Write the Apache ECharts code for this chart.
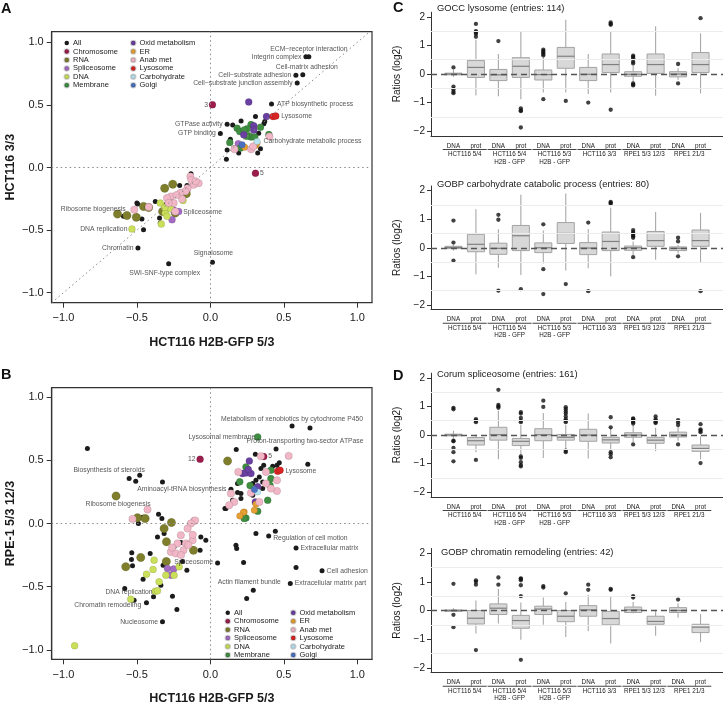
<!DOCTYPE html>
<html><head><meta charset="utf-8">
<script src="https://cdn.jsdelivr.net/npm/echarts@6/dist/echarts.min.js"></script>
<style>html,body{margin:0;padding:0;background:#fff}#c{width:723px;height:705px}</style>
</head><body><div id="c"></div>
<script>
const FONT = '"Liberation Sans", Arial, Helvetica, sans-serif';

// ---------------- categories ----------------
const categories = ['All','Chromosome','RNA','Spliceosome','DNA','Membrane','Oxid metabolism','ER','Anab met','Lysosome','Carbohydrate','Golgi'];
const legendCol1 = ['All','Chromosome','RNA','Spliceosome','DNA','Membrane'];
const legendCol2 = ['Oxid metabolism','ER','Anab met','Lysosome','Carbohydrate','Golgi'];

// ---------------- panel A: x = HCT116 H2B-GFP 5/3, y = HCT116 3/3 ----------------
const A_All = [[0.65,0.885],[0.67,0.885],[0.629,0.742],[0.582,0.737],[0.591,0.675],[0.416,0.508],[0.114,0.346],[0.068,0.271],[0.152,0.34],[0.209,0.372],[0.307,0.407],[0.37,0.367],[0.364,0.349],[0.136,0.226],[0.114,0.139],[0.109,0.067],[0.193,0.115],[0.322,0.115],[0.341,0.149],[0.329,0.274],[0.159,0.155],[-0.132,-0.05],[-0.209,-0.143],[-0.205,-0.196],[-0.155,-0.19],[-0.375,-0.271],[-0.495,-0.292],[-0.5,-0.284],[-0.591,-0.39],[-0.466,-0.412],[-0.455,-0.497],[-0.346,-0.404],[-0.341,-0.443],[-0.159,-0.143],[-0.493,-0.643],[-0.284,-0.768],[0.014,-0.757]];
const A_Chromosome = [[0.014,0.502],[0.307,-0.045]];
const A_RNA = [[-0.311,-0.165],[-0.256,-0.133],[-0.164,-0.21],[-0.632,-0.372],[-0.568,-0.383],[-0.504,-0.398],[-0.455,-0.311],[-0.325,-0.351],[-0.239,-0.364],[-0.42,-0.32],[-0.29,-0.3]];
const A_Spliceosome = [[-0.216,-0.351],[-0.261,-0.417],[-0.25,-0.34],[0.19,0.19]];
const A_DNA = [[-0.341,-0.284],[-0.186,-0.263],[-0.307,-0.364],[-0.295,-0.39],[-0.334,-0.452],[-0.534,-0.491],[-0.27,-0.33],[-0.31,-0.32]];
const A_Membrane = [[0.182,0.314],[0.2,0.287],[0.277,0.343],[0.341,0.322],[0.398,0.263],[0.277,0.243],[0.261,0.253],[0.302,0.243],[0.132,0.2],[0.205,0.155],[0.245,0.25],[0.25,0.31],[0.23,0.3]];
const A_Oxid = [[0.261,0.524],[0.382,0.407],[0.295,0.333],[0.295,0.3],[0.227,0.261]];
const A_ER = [[0.234,0.162],[0.307,0.175],[0.318,0.196]];
const A_Anab = [[0.402,0.247],[0.164,0.146],[0.277,0.146],[0.291,0.168],[-0.136,-0.072],[-0.08,-0.125],[-0.114,-0.138],[-0.155,-0.165],[-0.17,-0.19],[-0.205,-0.204],[-0.268,-0.231],[-0.295,-0.244],[-0.193,-0.252],[-0.25,-0.284],[-0.284,-0.284],[-0.42,-0.316],[-0.518,-0.337],[-0.239,-0.351],[-0.13,-0.1],[-0.23,-0.22],[-0.1,-0.11]];
const A_Lysosome = [[0.427,0.407],[0.445,0.412]];
const A_Carbohydrate = [[0.318,0.207]];
const A_Golgi = [[0.216,0.181]];
const A_notes = [
  ['ECM\u2212receptor interaction',0.67,0.885],['Integrin complex',0.65,0.885],['Cell-matrix adhesion',0.629,0.742],
  ['Cell\u2212substrate adhesion',0.582,0.737],['Cell\u2212substrate junction assembly',0.591,0.675],
  ['ATP biosynthetic process',0.416,0.508],['Lysosome',0.445,0.412],['3',0.014,0.502],['GTPase activity',0.114,0.346],
  ['GTP binding',0.068,0.271],['Carbohydrate metabolic process',0.318,0.207],['5',0.307,-0.045],
  ['Ribosome biogenesis',-0.518,-0.337],['Spliceosome',-0.216,-0.351],['DNA replication',-0.534,-0.491],
  ['Chromatin',-0.493,-0.643],['Signalosome',0.014,-0.757],['SWI-SNF-type complex',-0.284,-0.768]
];
const A_notePlace = [['top',0,0],['left',0,0],['top',4,0],['left',0,0],['left',0,0],['right',1,0],['right',1,0],['left',0,0],['left',0,0],['left',0,0],['right',2,0],['right',0,0],['left',-4,-1],['right',0,1],['left',0,0],['left',0,0],['top',1,-1],['bottom',-4,1]];

// ---------------- panel B: x = HCT116 H2B-GFP 5/3, y = RPE-1 5/3 12/3 ----------------
const B_All = [[0.556,0.772],[0.678,0.756],[0.447,0.589],[0.663,0.469],[-0.553,0.356],[-0.508,0.335],[-0.481,0.382],[-0.837,0.593],[-0.326,0.329],[0.14,0.271],[0.176,0.585],[0.306,0.548],[0.185,0.316],[0.099,0.119],[0.469,0.48],[0.453,0.461],[0.424,0.453],[0.363,0.461],[0.344,0.435],[0.333,0.369],[0.356,0.329],[0.31,0.342],[0.288,0.316],[0.322,0.295],[0.356,0.277],[0.288,0.224],[0.185,0.245],[0.208,0.198],[0.151,0.184],[0.106,0.119],[0.208,0.237],[0.442,-0.061],[0.31,-0.079],[0.397,-0.098],[0.583,-0.193],[0.174,-0.172],[0.179,-0.198],[0.226,-0.309],[0.049,-0.312],[0.76,-0.375],[0.583,-0.348],[0.544,-0.475],[0.292,-0.528],[0.247,-0.593],[-0.326,-0.778],[-0.519,-0.607],[-0.583,-0.514],[-0.435,-0.628],[-0.387,-0.58],[-0.258,-0.575],[-0.228,-0.68],[-0.36,-0.106],[-0.315,-0.079],[-0.535,-0.232],[-0.537,-0.285],[-0.53,-0.335],[-0.41,-0.237],[-0.458,-0.441],[-0.322,-0.33],[-0.337,-0.488],[-0.247,-0.185],[-0.065,-0.106],[-0.031,-0.132],[-0.07,-0.211],[-0.49,0],[-0.353,0.074],[-0.33,0.04],[-0.46,0.05],[-0.2,-0.15],[-0.19,-0.3],[-0.16,-0.37]];
const B_Chromosome = [[-0.07,0.509],[0.363,0.53]];
const B_RNA = [[-0.642,0.218],[0.117,0.495],[-0.496,0.045],[-0.444,0.04],[-0.265,0.008],[-0.315,-0.04],[-0.576,-0.343],[-0.474,-0.269],[-0.115,-0.211],[-0.299,-0.145],[-0.3,-0.3]];
const B_Spliceosome = [[-0.269,-0.409],[-0.292,-0.356],[-0.25,-0.36]];
const B_DNA = [[-0.924,-0.968],[-0.542,-0.599],[-0.376,-0.536],[-0.435,-0.401],[-0.383,-0.29],[-0.39,-0.364],[-0.349,-0.462],[-0.303,-0.409],[-0.247,-0.409],[-0.213,-0.343],[-0.36,-0.533]];
const B_Membrane = [[0.322,0.685],[0.242,0.448],[0.412,0.422],[0.412,0.356],[0.406,0.303],[0.39,0.184],[0.322,0.097],[0.242,0.044],[0.23,0.04],[0.27,0.3],[0.2,0.33]];
const B_Oxid = [[0.265,0.495],[0.219,0.396],[0.242,0.4],[0.276,0.396],[0.258,0.427],[0.322,0.29],[0.306,0.171]];
const B_ER = [[0.31,0.153],[0.299,0.105],[0.23,0.092],[0.224,0.087],[0.2,0.06]];
const B_Anab = [[0.533,0.535],[0.344,0.532],[0.378,0.408],[0.453,0.342],[0.453,0.258],[0.412,0.277],[0.378,0.316],[0.19,0.408],[0.14,0.237],[0.276,0.242],[0.333,0.171],[0.162,0.171],[0.128,0.145],[-0.11,0.021],[-0.428,0.111],[-0.53,0.036],[-0.104,0.024],[-0.133,0],[-0.201,-0.093],[-0.155,-0.04],[-0.121,-0.132],[-0.167,-0.158],[-0.224,-0.158],[-0.269,-0.225],[-0.183,-0.211],[-0.235,-0.237],[-0.15,-0.17],[-0.2,-0.25],[-0.12,-0.09],[-0.26,-0.19]];
const B_Lysosome = [[0.458,0.414],[0.474,0.422]];
const B_Carbohydrate = [[0.322,0.25]];
const B_Golgi = [[0.3,0.27]];
const B_notes = [
  ['Metabolism of xenobiotics by cytochrome P450',0.556,0.772],['Lysosomal membrane',0.322,0.685],
  ['Proton-transporting two-sector ATPase',0.447,0.589],['12',-0.07,0.509],['5',0.363,0.53],['Lysosome',0.474,0.422],
  ['Biosynthesis of steroids',-0.553,0.356],['Aminoacyl-tRNA biosynthesis',0.14,0.271],['Ribosome biogenesis',-0.642,0.218],
  ['Regulation of cell motion',0.397,-0.098],['Extracellular matrix',0.583,-0.193],['Cell adhesion',0.76,-0.375],
  ['Extracellular matrix part',0.544,-0.475],['Actin filament bundle',0.292,-0.528],['Spliceosome',0.049,-0.312],
  ['DNA replication',-0.376,-0.536],['Chromatin remodeling',-0.542,-0.599],['Nucleosome',-0.326,-0.778]
];
const B_notePlace = [['top',0,1],['left',2,0],['top',29,0],['left',0,0],['right',0,0],['right',1,1],['top',-20,0],['left',0,0],['bottom',2,0],['right',0,2],['right',0,0],['right',0,0],['right',0,0],['top',-4,0],['left',0,-1],['left',2,1],['bottom',-23,-2],['left',0,0]];

// ---------------- boxplots (C, D): [min, Q1, median, Q3, max] ----------------
const boxLabels = ['DNA','prot'];
const groupLabels = ['HCT116 5/4','HCT116 5/4\nH2B - GFP','HCT116 5/3\nH2B - GFP','HCT116 3/3','RPE1 5/3 12/3','RPE1 21/3'];
const boxTitles = ['GOCC lysosome (entries: 114)','GOBP carbohydrate catabolic process (entries: 80)','Corum spliceosome (entries: 161)','GOBP chromatin remodeling (entries: 42)'];

const C1_box = [[-0.1,-0.03,0,0.03,0.15],[-0.75,-0.12,0.23,0.47,1.2],[-0.78,-0.23,-0.03,0.16,0.7],[-0.88,-0.12,0.27,0.57,1.5],[-0.65,-0.21,-0.02,0.14,0.6],[-0.65,0.2,0.62,0.93,1.9],[-0.7,-0.23,-0.01,0.23,0.7],[-0.65,0.05,0.33,0.7,1.5],[-0.28,-0.08,-0.01,0.08,0.3],[-0.76,0.02,0.33,0.7,1.67],[-0.2,-0.1,0,0.08,0.2],[-0.68,0.05,0.33,0.75,1.42]];
const C1_out = [[0.23,-0.44,-0.53,-0.62,-0.67],[1.75,1.5,1.45,1.4,1.3],[1.15],[-1.2,-1.27,-1.3,-1.87],[0.85,0.8,0.75,0.7,0.65,-0.88],[-0.94],[-1.0],[1.8,1.75,1.72,-1.25],[0.64,0.6,0.55,0.43,0.37,-0.33,-0.37,-0.4],[],[0.35,-0.33],[1.95]];
const C2_box = [[-0.1,-0.03,0.01,0.05,0.1],[-0.93,-0.14,0.12,0.47,1.35],[-0.7,-0.23,-0.02,0.16,0.65],[-0.95,-0.1,0.42,0.78,1.85],[-0.55,-0.17,0,0.17,0.6],[-0.8,0.15,0.5,0.88,1.9],[-0.72,-0.24,-0.01,0.18,0.65],[-1.0,-0.1,0.22,0.55,1.4],[-0.25,-0.09,0,0.06,0.22],[-0.42,0.05,0.25,0.57,1.25],[-0.2,-0.1,-0.02,0.03,0.1],[-0.5,0.05,0.25,0.62,1.22]];
const C2_out = [[0.95,0.18,-0.45],[],[1.15,0.98,-1.5],[-1.45],[0.82,-0.75,-1.62],[-1.27],[0.88,-1.52],[1.6,1.57,1.53],[0.62,0.55,0.5,0.45,0.4,0.35,-0.33],[],[0.35,0.22,-0.3],[-1.52]];
const D1_box = [[-0.12,-0.03,0,0.03,0.15],[-0.6,-0.35,-0.2,-0.09,0.02],[-0.85,-0.18,0.01,0.27,0.85],[-0.7,-0.37,-0.22,-0.12,0.35],[-0.8,-0.2,0.01,0.22,0.77],[-0.5,-0.18,-0.08,0.02,0.35],[-0.82,-0.22,0,0.2,0.75],[-0.55,-0.28,-0.17,-0.08,0.25],[-0.25,-0.08,0,0.08,0.35],[-0.57,-0.29,-0.18,-0.08,0.25],[-0.2,-0.07,0,0.1,0.3],[-0.85,-0.57,-0.47,-0.35,-0.05]];
const D1_out = [[0.95,0.9,-0.2,-0.22,-0.45,-0.6,-0.92],[0.55,0.5,0.45,-0.87],[1.58,1.05,1.0,0.95],[0.8,0.75,0.6,0.5,0.45,-0.75,-0.8,-0.95,-1.05,-1.1],[1.2,0.98],[0.97,0.9,0.82,0.75,0.65,0.55,0.5,0.45,-0.55,-0.6],[],[0.62,0.27,-0.6,-0.67,-0.78],[0.58,0.55,0.5,0.45,0.4,-0.33],[0.65,0.55,0.5,0.45,0.42],[0.52,0.45,0.35,-0.33],[0.38,0.2,0.15,0.1,-0.98]];
const D2_box = [[-0.05,-0.03,0,0.02,0.08],[-0.8,-0.47,-0.27,0,0.35],[-0.45,-0.14,0.08,0.23,0.75],[-1.02,-0.62,-0.35,-0.17,0.28],[-0.5,-0.14,0.05,0.15,0.45],[-0.92,-0.39,-0.2,0,0.3],[-0.72,-0.2,0.02,0.17,0.55],[-1.15,-0.5,-0.28,-0.03,0.5],[-0.1,-0.07,0.02,0.12,0.3],[-0.88,-0.48,-0.38,-0.2,0.03],[-0.25,-0.07,0,0.1,0.25],[-1.1,-0.77,-0.58,-0.48,-0.12]];
const D2_out = [[0.93,-0.15,-0.58],[1.05,1.0,0.9,-1.38],[1.15,0.9],[1.12,1.1,1.05,0.88,0.5,-1.72],[0.85,0.8],[0.6],[0.9,0.72],[0.75,0.72],[0.5,0.45],[],[0.38],[]];

const scatterTicks = [-1,-0.5,0,0.5,1];
const boxYTicks = [-2,-1,0,1,2];

// ---------------- styles ----------------
const catColor = {'All':'#1b1b1b','Chromosome':'#9c1d4d','RNA':'#7e7e2c','Spliceosome':'#a36bc4','DNA':'#cbdf5a','Membrane':'#3f8e41','Oxid metabolism':'#6b40a3','ER':'#e6a033','Anab met':'#f1b7c7','Lysosome':'#d92424','Carbohydrate':'#b8e3f1','Golgi':'#4b71c3'};
const catSize = {'All':5,'Chromosome':7,'RNA':8.5,'Spliceosome':7,'DNA':7,'Membrane':7,'Oxid metabolism':7,'ER':6.5,'Anab met':7.5,'Lysosome':7,'Carbohydrate':6.5,'Golgi':6.5};
const A_sets = {'All':A_All,'Chromosome':A_Chromosome,'RNA':A_RNA,'Spliceosome':A_Spliceosome,'DNA':A_DNA,'Membrane':A_Membrane,'Oxid metabolism':A_Oxid,'ER':A_ER,'Anab met':A_Anab,'Lysosome':A_Lysosome,'Carbohydrate':A_Carbohydrate,'Golgi':A_Golgi};
const B_sets = {'All':B_All,'Chromosome':B_Chromosome,'RNA':B_RNA,'Spliceosome':B_Spliceosome,'DNA':B_DNA,'Membrane':B_Membrane,'Oxid metabolism':B_Oxid,'ER':B_ER,'Anab met':B_Anab,'Lysosome':B_Lysosome,'Carbohydrate':B_Carbohydrate,'Golgi':B_Golgi};

const fmt1 = v => (v < 0 ? '\u2212' : '') + Math.abs(v).toFixed(1);
const fmt0 = v => (v < 0 ? '\u2212' : '') + Math.abs(v);

const grids = [
  {left:51.7, top:31.7, width:320.3, height:271},
  {left:51.7, top:387.7, width:320.3, height:271.6},
  {left:431, top:12.2, width:292, height:123.6},
  {left:431, top:186, width:292, height:123.5},
  {left:431, top:373.2, width:292, height:123.6},
  {left:431, top:548.5, width:292, height:124}
].map((g,i) => Object.assign({outerBoundsMode:'none', containLabel:false, show: i < 2, borderColor:'#333', borderWidth:1.2, backgroundColor:'transparent'}, g));

const xAxes = [], yAxes = [], series = [];

function scatterAxis(dir, gi, name, min, max, nameGap) {
  return {
    type:'value', gridIndex:gi, min, max, name, nameLocation:'middle', nameGap, nameMoveOverlap:false,
    nameTextStyle:{fontFamily:FONT, fontWeight:'bold', fontSize:12.5, color:'#1a1a1a'},
    axisLine:{show:true, onZero:false, lineStyle:{color:'#333', width:1.2}},
    axisTick:{show:true, length:5, customValues:scatterTicks, lineStyle:{color:'#333', width:1}},
    axisLabel:{customValues:scatterTicks, formatter:fmt1, fontFamily:FONT, fontSize:11, color:'#1a1a1a', margin: dir === 'x' ? 10 : 8},
    splitLine:{show:false}
  };
}
xAxes.push(scatterAxis('x',0,'HCT116 H2B-GFP 5/3',-1.08,1.1,33));
xAxes.push(scatterAxis('x',1,'HCT116 H2B-GFP 5/3',-1.08,1.1,33));
yAxes.push(scatterAxis('y',0,'HCT116 3/3',-1.08,1.085,35));
yAxes.push(scatterAxis('y',1,'RPE-1 5/3 12/3',-1.075,1.075,35));

function addScatterPanel(gi, sets, notes, place, diagMax) {
  categories.forEach(cat => {
    series.push({
      type:'scatter', name:cat, xAxisIndex:gi, yAxisIndex:gi, data:sets[cat], symbolSize:catSize[cat],
      itemStyle:{color:catColor[cat], opacity:1, borderColor:'rgba(0,0,0,0.18)', borderWidth: cat === 'All' ? 0 : 0.6},
      z: cat === 'All' ? 3 : 4, silent:true
    });
  });
  series.push({
    type:'scatter', xAxisIndex:gi, yAxisIndex:gi, data:[], silent:true, z:1,
    markLine:{silent:true, symbol:'none', label:{show:false},
      lineStyle:{type:[1.5,3], color:'#8a8a8a', width:1},
      data:[{xAxis:0},{yAxis:0},[{coord:[-1.08,-1.08]},{coord:[diagMax,diagMax]}]]}
  });
  series.push({
    type:'scatter', xAxisIndex:gi, yAxisIndex:gi, silent:true, z:6, symbolSize:5,
    itemStyle:{color:'rgba(0,0,0,0)'},
    data: notes.map((n,i) => ({
      value:[n[1], n[2]],
      label:{show:true, formatter:n[0], position:place[i][0], distance:2, offset:[place[i][1], place[i][2]],
        fontFamily:FONT, fontSize:6.8, color:'#2a2a2a'}
    }))
  });
}
addScatterPanel(0, A_sets, A_notes, A_notePlace, 1.085);
addScatterPanel(1, B_sets, B_notes, B_notePlace, 1.075);

function renderBox(params, api) {
  const x = api.value(0);
  const pMin = api.coord([x, api.value(1)]);
  const pQ1 = api.coord([x, api.value(2)]);
  const pMed = api.coord([x, api.value(3)]);
  const pQ3 = api.coord([x, api.value(4)]);
  const pMax = api.coord([x, api.value(5)]);
  const bw = api.size([1, 0])[0] * 0.76;
  const hw = bw / 2, cx = pMed[0];
  return {type:'group', children:[
    {type:'line', shape:{x1:cx, y1:pQ3[1], x2:cx, y2:pMax[1]}, style:{stroke:'#a8a8a8', lineWidth:1.1}},
    {type:'line', shape:{x1:cx, y1:pQ1[1], x2:cx, y2:pMin[1]}, style:{stroke:'#a8a8a8', lineWidth:1.1}},
    {type:'rect', shape:{x:cx-hw, y:pQ3[1], width:bw, height:Math.max(pQ1[1]-pQ3[1], 1.5)}, style:{fill:'#d8d8d8', stroke:'#a3a3a3', lineWidth:1}},
    {type:'line', shape:{x1:cx-hw, y1:pMed[1], x2:cx+hw, y2:pMed[1]}, style:{stroke:'#808080', lineWidth:1.2}}
  ]};
}

const boxSets = [[C1_box, C1_out],[C2_box, C2_out],[D1_box, D1_out],[D2_box, D2_out]];
boxSets.forEach((bs, k) => {
  const gi = k + 2;
  const xi = xAxes.length;
  xAxes.push({
    type:'value', gridIndex:gi, min:0, max:13, position:'bottom',
    axisLine:{show:true, onZero:false, lineStyle:{color:'#333', width:1}},
    axisTick:{show:false}, splitLine:{show:false},
    axisLabel:{customValues:[1,2,3,4,5,6,7,8,9,10,11,12], formatter:v => boxLabels[(v - 1) % 2],
      fontFamily:FONT, fontSize:6.3, lineHeight:7, color:'#1a1a1a', margin:6.5}
  });
  xAxes.push({
    type:'value', gridIndex:gi, min:0, max:13, position:'bottom',
    axisLine:{show:false}, axisTick:{show:false}, splitLine:{show:false},
    axisLabel:{customValues:[1.5,3.5,5.5,7.5,9.5,11.5], margin:12.7, color:'#1a1a1a',
      formatter:v => '{u|}\n' + groupLabels[Math.round((v - 1.5) / 2)].split('\n').map(s => '{g|' + s + '}').join('\n'),
      rich:{u:{width:44, height:0.9, lineHeight:2, fontSize:1, backgroundColor:'#444'},
            g:{fontFamily:FONT, fontSize:6.3, lineHeight:7.6, color:'#1a1a1a'}}}
  });
  yAxes.push({
    type:'value', gridIndex:gi, min:-2.16, max:2.16, name:'Ratios (log2)', nameLocation:'middle', nameGap:29, nameMoveOverlap:false,
    nameTextStyle:{fontFamily:FONT, fontSize:10, color:'#1a1a1a'},
    axisLine:{show:true, onZero:false, lineStyle:{color:'#333', width:1}},
    axisTick:{show:true, length:4, customValues:boxYTicks, lineStyle:{color:'#333'}},
    axisLabel:{customValues:boxYTicks, formatter:fmt0, fontFamily:FONT, fontSize:10, color:'#1a1a1a', margin:6},
    splitLine:{show:false}
  });
  series.push({
    type:'scatter', xAxisIndex:xi, yAxisIndex:gi, data:[], silent:true, z:1,
    markLine:{silent:true, symbol:'none', label:{show:false}, lineStyle:{type:'solid', color:'#ececec', width:1},
      data:[{yAxis:1.5},{yAxis:0.5},{yAxis:-0.5},{yAxis:-1.5}]}
  });
  series.push({
    type:'custom', xAxisIndex:xi, yAxisIndex:gi, silent:true, z:2, renderItem:renderBox,
    encode:{x:0, y:[1,2,3,4,5]},
    data: bs[0].map((b, i) => [i + 1].concat(b))
  });
  series.push({
    type:'scatter', xAxisIndex:xi, yAxisIndex:gi, data:[], silent:true, z:3,
    markLine:{silent:true, symbol:'none', label:{show:false}, lineStyle:{type:[6,4], color:'#555', width:1.3},
      data:[{yAxis:0}]}
  });
  const outs = [];
  bs[1].forEach((vals, i) => vals.forEach(v => outs.push([i + 1, v])));
  series.push({
    type:'scatter', xAxisIndex:xi, yAxisIndex:gi, data:outs, silent:true, z:4, symbolSize:4.3,
    itemStyle:{color:'#111'}
  });
});

function mkLegend(names, left, top) {
  return {data:names, orient:'vertical', left, top, padding:0, itemGap:0, itemWidth:4.5, itemHeight:4.5,
    icon:'circle', selectedMode:false,
    textStyle:{fontFamily:FONT, fontSize:7.5, lineHeight:8.46, color:'#222', padding:[0,0,0,-1]}};
}

const titleStyle = {fontFamily:FONT, fontSize:9.4, fontWeight:'normal', color:'#1a1a1a'};
const letterStyle = {fontFamily:FONT, fontSize:14.5, fontWeight:'bold', color:'#111'};

const option = {
  animation:false,
  backgroundColor:'#fff',
  title:[
    {text:'A', left:1, top:1.5, padding:0, textStyle:letterStyle},
    {text:'B', left:1, top:367.5, padding:0, textStyle:letterStyle},
    {text:'C', left:393, top:0, padding:0, textStyle:letterStyle},
    {text:'D', left:393, top:368, padding:0, textStyle:letterStyle},
    {text:boxTitles[0], left:437, top:3.5, padding:0, textStyle:titleStyle},
    {text:boxTitles[1], left:437, top:179.5, padding:0, textStyle:titleStyle},
    {text:boxTitles[2], left:437, top:369.5, padding:0, textStyle:titleStyle},
    {text:boxTitles[3], left:441, top:547.5, padding:0, textStyle:titleStyle}
  ],
  legend:[
    mkLegend(legendCol1, 63.5, 38.8), mkLegend(legendCol2, 130, 38.8),
    mkLegend(legendCol1, 224.5, 608.5), mkLegend(legendCol2, 290, 608.5)
  ],
  grid:grids, xAxis:xAxes, yAxis:yAxes, series
};

const chart = echarts.init(document.getElementById('c'), null, {renderer:'canvas', width:723, height:705});
chart.setOption(option);
</script></body></html>
